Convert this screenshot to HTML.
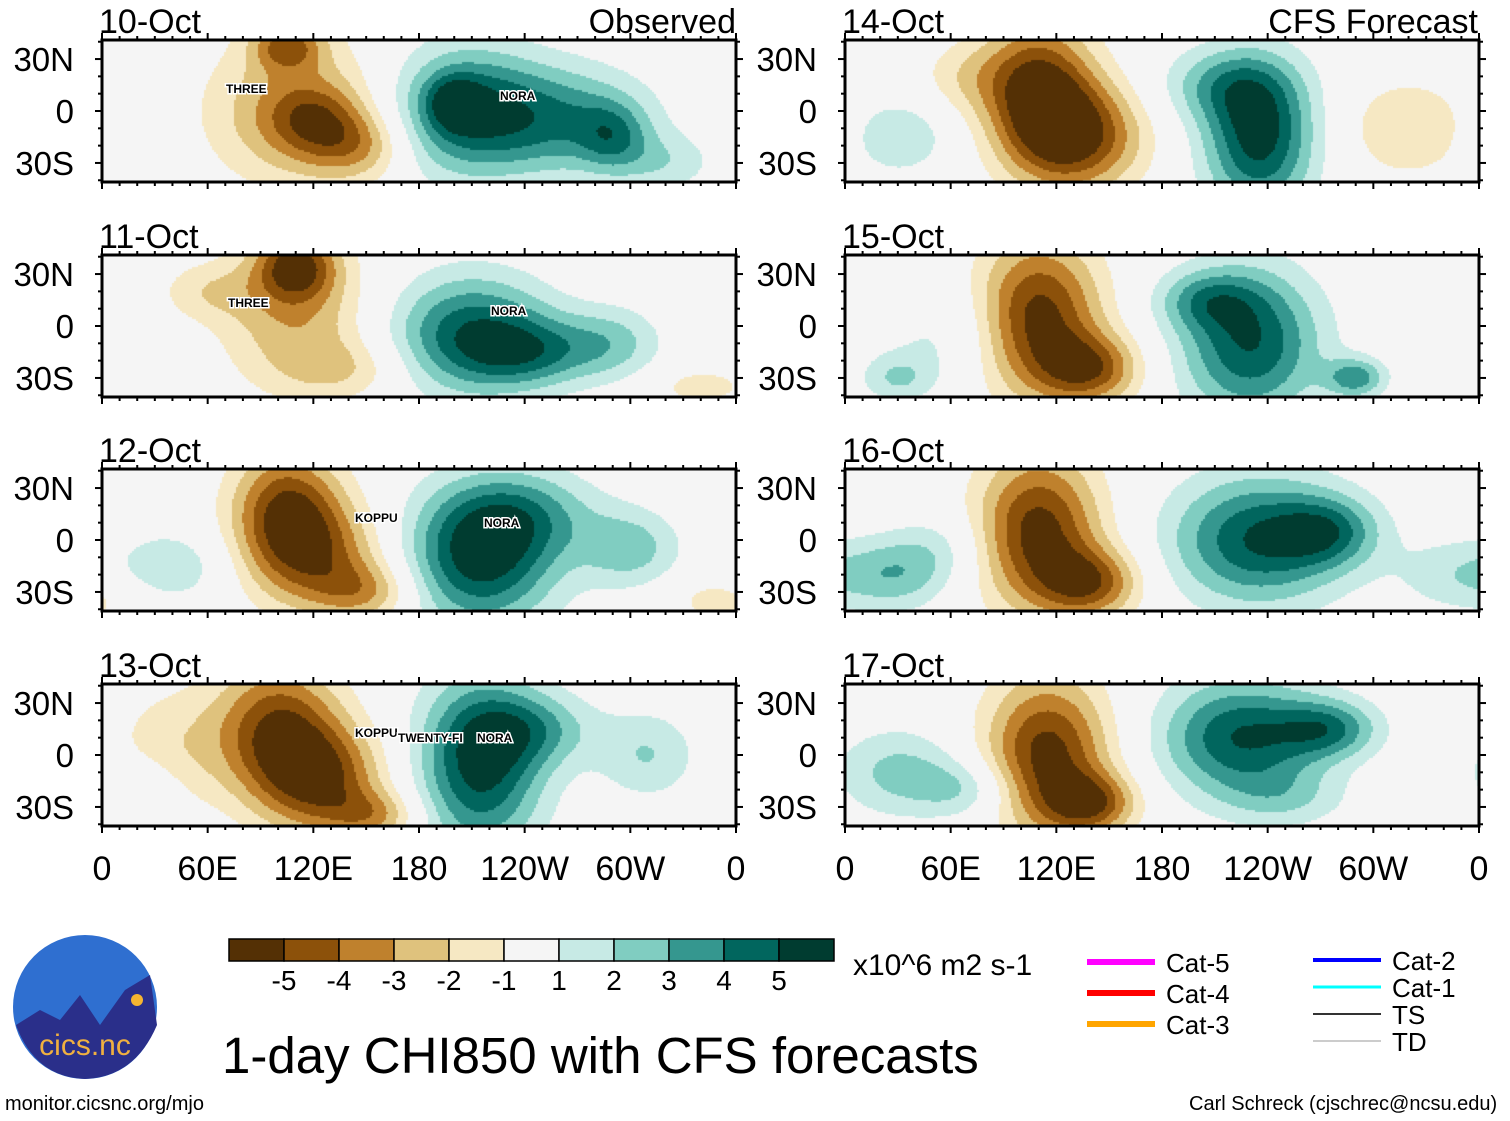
<!DOCTYPE html>
<html><head><meta charset="utf-8">
<style>
body{margin:0;background:#fff;width:1510px;height:1121px;overflow:hidden;position:relative;font-family:"Liberation Sans",sans-serif}
.t{position:absolute;white-space:nowrap;color:#000;line-height:1}
#cv{position:absolute;left:0;top:0}
#ov{position:absolute;left:0;top:0}
</style></head><body>
<canvas id="cv" width="1510" height="1121"></canvas>
<svg id="ov" width="1510" height="1121"></svg>

<div class="t" style="left:5px;top:1094px;font-size:20px">monitor.cicsnc.org/mjo</div>
<div class="t" style="left:1189px;top:1094px;font-size:20px">Carl Schreck (cjschrec@ncsu.edu)</div>
<div class="t" style="left:222px;top:1030px;font-size:51px">1-day CHI850 with CFS forecasts</div>
<div class="t" style="left:853px;top:951px;font-size:30px">x10^6 m2 s-1</div>

<script>
// ---- data ----
const panelDates=["10-Oct","11-Oct","12-Oct","13-Oct","14-Oct","15-Oct","16-Oct","17-Oct"];
// blobs per panel: [lonDeg, latDeg, amplitude, lonWidth, latWidth]
const blobs10=[[110,0,-3.2,35,30],[120,-5,-2.2,18,14],[145,-20,-2.5,20,14],[105,38,-3.5,14,10],[205,0,4.5,30,26],[200,5,2.5,10,10],[260,-5,3.5,35,22],[290,-15,2.5,14,14],[320,-30,1.5,20,12]];
const blobs11=[[110,35,-4.5,16,14],[110,5,-2.8,30,30],[140,-25,-1.5,25,12],[210,-5,4.8,32,24],[245,-15,2.8,25,14],[290,-10,2.2,20,15],[340,-35,-1.5,20,8],[60,20,-1.5,20,12]];
const blobs12=[[105,20,-4.5,22,24],[120,-10,-4,28,22],[150,-30,-2.5,20,12],[215,-10,5.5,30,28],[240,15,2.5,30,18],[300,-5,2.5,20,16],[40,-15,1.8,25,15],[350,-35,-1.5,20,10]];
const blobs13=[[100,15,-4.8,25,28],[125,-15,-4.5,25,22],[155,-35,-2.5,18,10],[215,-5,5.5,25,35],[245,15,2.5,25,15],[310,0,2,20,18],[40,5,-1.6,25,25],[20,-20,1.5,15,12]];
const blobs14=[[110,10,-5.5,22,30],[135,-15,-4.5,25,22],[235,-15,5.5,22,30],[215,15,2.5,25,15],[30,-15,2,20,15],[320,-10,-2,25,20],[70,20,-1.5,20,15]];
const blobs15=[[110,5,-5.5,25,32],[140,-25,-4,20,14],[230,-10,5,28,30],[205,15,2.5,20,12],[290,-30,3.5,12,8],[30,-30,2,15,10],[60,-5,1.3,25,20]];
const blobs16=[[110,5,-5.5,25,32],[140,-25,-4,20,14],[235,0,5,35,26],[275,5,3,20,14],[30,-20,2.2,20,15],[350,-20,1.8,25,15],[55,-5,1.3,20,15]];
const blobs17=[[115,0,-5.5,25,32],[140,-28,-4,18,12],[225,10,5,32,24],[275,15,3.5,20,12],[30,-10,2.3,25,18],[70,-20,2,20,12],[250,-25,1.5,25,12]];
const allBlobs=[blobs10,blobs11,blobs12,blobs13,blobs14,blobs15,blobs16,blobs17];
const levels=[-5,-4,-3,-2,-1,1,2,3,4,5];
const colors=["#543005","#8c510a","#bf812d","#dfc27d","#f6e8c3","#f5f5f5","#c7eae5","#80cdc1","#35978f","#01665e","#003c30"];
const xTickLabels=["0","60E","120E","180","120W","60W","0"];
const yTickLabels=["30N","0","30S"];
const legendNames=["Cat-5","Cat-4","Cat-3","Cat-2","Cat-1","TS","TD"];
const legendColors=["#ff00ff","#ff0000","#ffa500","#0000ff","#00ffff","#333","#999"];
const legendWidths=[6,6,6,4,3,2,1];

// ---- geometry ----
const colX=[102,845], W=634, rowY=[40,255,469,684], H=142;
function panelRect(i){return {x:colX[Math.floor(i/4)],y:rowY[i%4]};}
function lonX(p,lon){return p.x+lon/360*W;}
function latY(p,lat){return p.y+H/2-lat*(H/2)/41;}
function field(b,lon,lat){let v=0;for(const q of b){let dl=lon-q[0];if(dl>180)dl-=360;if(dl<-180)dl+=360;v+=q[2]*Math.exp(-(dl*dl)/(2*q[3]*q[3])-((lat-q[1])**2)/(2*q[4]*q[4]));}return v;}
function colorOf(v){let k=0;while(k<levels.length&&v>=levels[k])k++;return colors[k];}

const cv=document.getElementById('cv').getContext('2d');
const NS="http://www.w3.org/2000/svg";
const ov=document.getElementById('ov');
function mk(tag,attrs){const e=document.createElementNS(NS,tag);for(const k in attrs)e.setAttribute(k,attrs[k]);ov.appendChild(e);return e;}

for(let i=0;i<8;i++){
 const p=panelRect(i), b=allBlobs[i], s=2;
 for(let px=0;px<W;px+=s)for(let py=0;py<H;py+=s){
  const lon=(px+s/2)/W*360, lat=41-(py+s/2)/(H/2)*41;
  cv.fillStyle=colorOf(field(b,lon,lat));cv.fillRect(p.x+px,p.y+py,s,s);
 }
 const fr=mk('rect',{x:p.x,y:p.y,width:W,height:H,fill:'none',stroke:'#000','stroke-width':3});
 
 
 for(let lon=0;lon<=360;lon+=10){const x=lonX(p,lon),L=lon%60===0?7:4;
  mk('line',{x1:x,y1:p.y,x2:x,y2:p.y-L,stroke:'#000','stroke-width':2});
  mk('line',{x1:x,y1:p.y+H,x2:x,y2:p.y+H+L,stroke:'#000','stroke-width':2});}
 for(let lat=-40;lat<=40;lat+=10){const y=latY(p,lat),L=lat%30===0?7:4;
  mk('line',{x1:p.x,y1:y,x2:p.x-L,y2:y,stroke:'#000','stroke-width':2});
  mk('line',{x1:p.x+W,y1:y,x2:p.x+W+L,y2:y,stroke:'#000','stroke-width':2});}
 const dt=mk('text',{x:p.x-3,y:p.y-7,'font-size':34,'font-family':'Liberation Sans'});dt.textContent=panelDates[i];
 
 
 [30,0,-30].forEach((lat,j)=>{const t=mk('text',{x:p.x-28,y:latY(p,lat)+12,'font-size':33,'text-anchor':'end','font-family':'Liberation Sans'});t.textContent=yTickLabels[j];
  
  });
 if(i%4===3){xTickLabels.forEach((l,j)=>{const t=mk('text',{x:lonX(p,j*60),y:880,'font-size':34,'text-anchor':'middle','font-family':'Liberation Sans'});t.textContent=l;
  
  });}
}
[["Observed",736],["CFS Forecast",1478]].forEach(a=>{const t=mk('text',{x:a[1],y:33,'font-size':34,'text-anchor':'end','font-family':'Liberation Sans'});t.textContent=a[0];
 
 });

// storm labels
[["THREE",226,93],["NORA",500,100],["THREE",228,307],["NORA",491,315],["KOPPU",355,522],["NORA",484,527],["KOPPU",355,737],["TWENTY-FI",398,742],["NORA",477,742]].forEach(s=>{
 const t=mk('text',{x:s[1],y:s[2],'font-size':12,'font-weight':'bold','font-family':'Liberation Sans',stroke:'#fff','stroke-width':3,'paint-order':'stroke'});t.textContent=s[0];
 
 });

// colorbar
levels.concat([99]).forEach((_,k)=>{const r=mk('rect',{x:229+k*55,y:939,width:55,height:22,fill:colors[k],stroke:'#000','stroke-width':1.5});
 
 });
levels.forEach((l,k)=>{const t=mk('text',{x:229+(k+1)*55,y:990,'font-size':28,'text-anchor':'middle','font-family':'Liberation Sans'});t.textContent=l;
 
 });

// legend
legendNames.forEach((n,k)=>{const c=k<3?0:1,r=k<3?k:k-3;const x=c?1313:1087,y=c?960+r*27:962+r*31;
 const l=mk('line',{x1:x,y1:y,x2:x+68,y2:y,stroke:legendColors[k],'stroke-width':legendWidths[k]});
 
 
 const t=mk('text',{x:x+79,y:y+10,'font-size':26,'font-family':'Liberation Sans'});t.textContent=n;
 
 });

// logo
const lg=mk('circle',{cx:85,cy:1007,r:72,fill:'#2f6fd0'});


mk('path',{d:'M16,1025 L40,1010 L60,1020 L80,995 L100,1025 L125,990 L150,975 L157,1025 Q135,1077 85,1079 Q35,1077 16,1025Z',fill:'#2a2f8a'});
mk('circle',{cx:137,cy:1000,r:6,fill:'#f5b531'});
const lt=mk('text',{x:85,y:1055,'font-size':30,'text-anchor':'middle',fill:'#f0b040','font-family':'Liberation Sans'});lt.textContent="cics.nc";


</script>
</body></html>
